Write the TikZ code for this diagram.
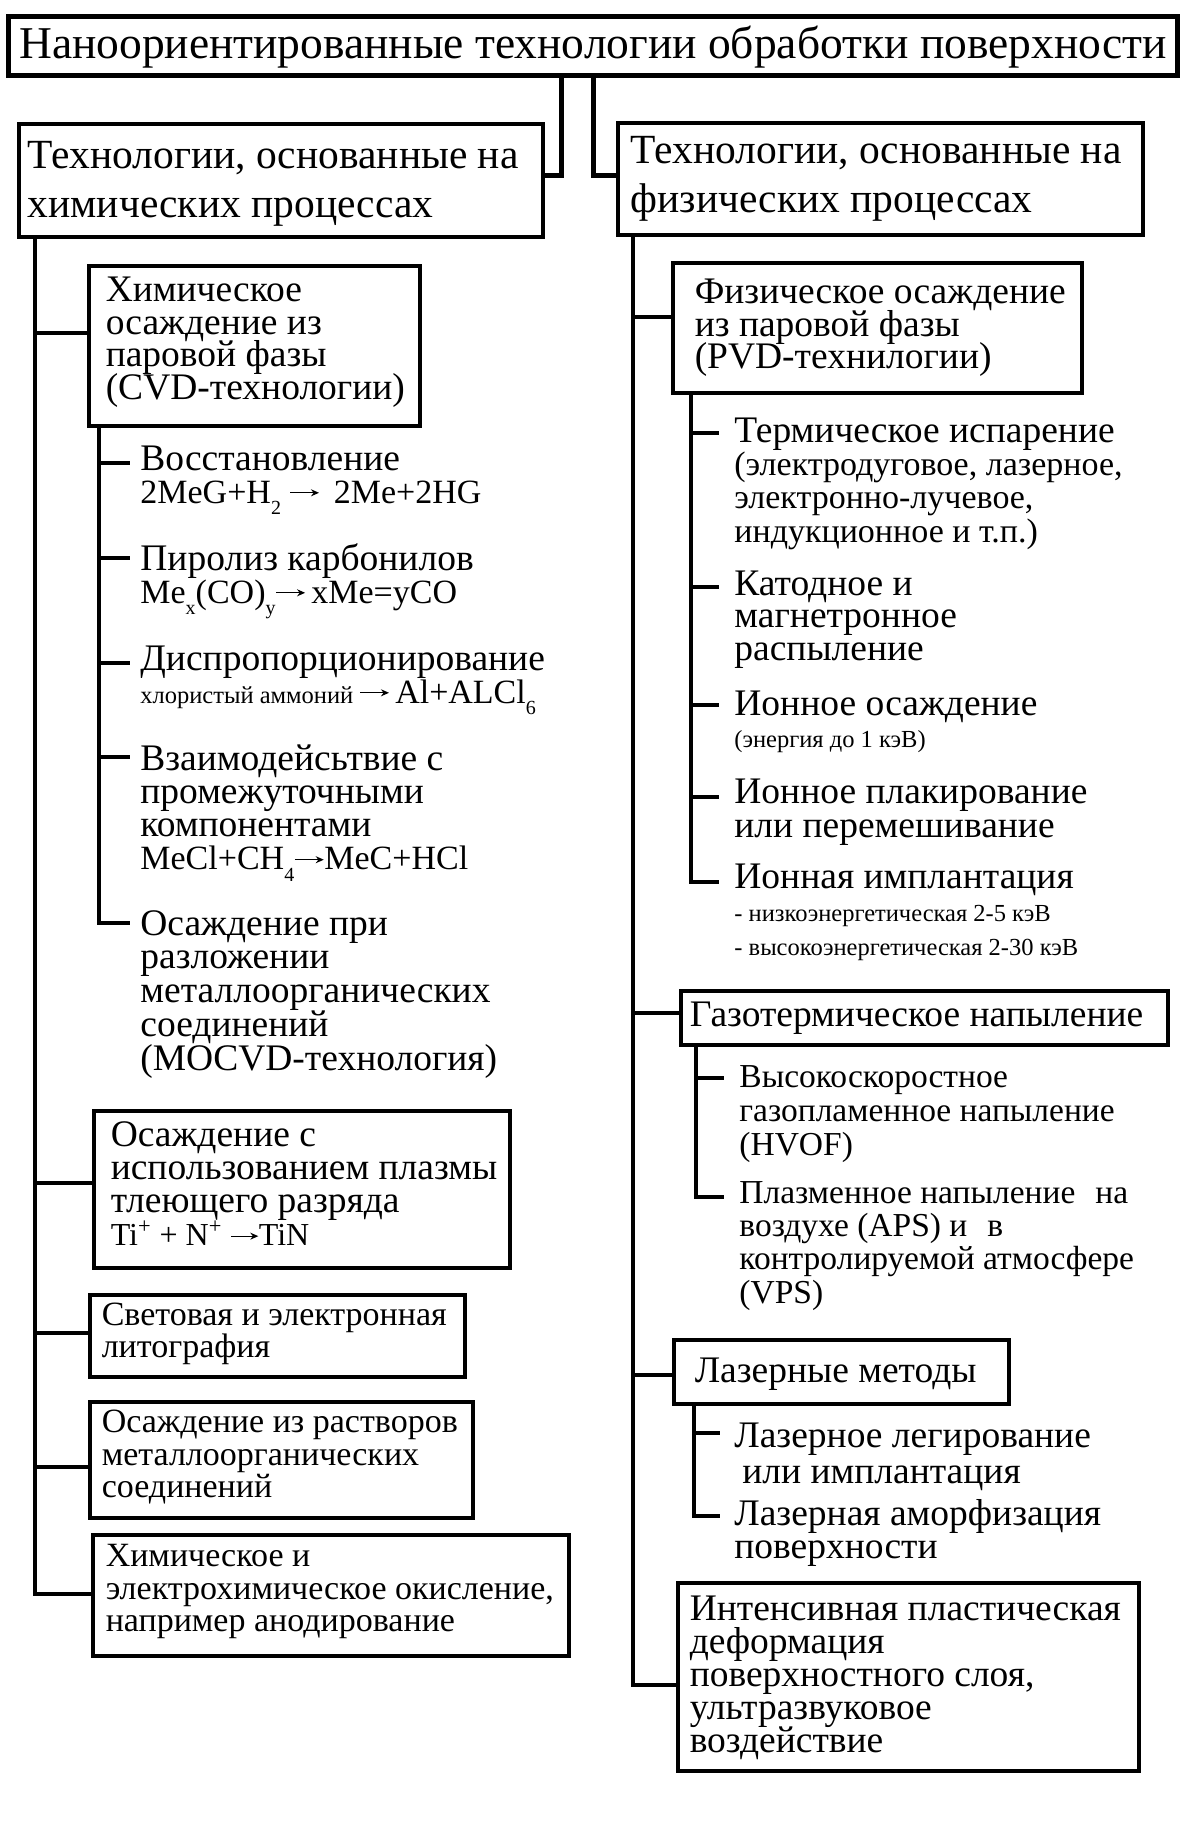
\documentclass[tikz,border=0pt]{standalone}
\usepackage{fontspec}
\setmainfont{Liberation Serif}
\usetikzlibrary{arrows.meta}
\newcommand\fs[2]{\fontsize{#1}{#2}\selectfont}
\newcommand\ML[1]{\vtop{\lineskiplimit=-\maxdimen\lineskip=0pt\halign{##\hfil\cr#1\crcr}}}
\newcommand\smf{\fs{17}{17}}
\newcommand\tnf{\fs{12.25}{14}}
\newcommand\sbs[1]{\raisebox{-0.35em}{\fontsize{10}{10}\selectfont #1}}
\newcommand\arr{\tikz[baseline=-0.3em]\draw[-{Stealth[length=4pt,width=3.5pt]},line width=0.6pt] (0pt,0pt) -- (0.85em,0pt);}
\begin{document}
\begin{tikzpicture}[x=0.5pt,y=-0.5pt,
  ln/.style={line width=1.75pt},
  thk/.style={line width=2.5pt},
  bx/.style={draw, line width=1.75pt, anchor=north west, inner ysep=0pt},
  item/.style={anchor=base west, inner sep=0pt},
  mainf/.style={font=\fs{18.75}{16.25}}]
\useasboundingbox (0,0) rectangle (1181,1831);
\fill[white] (0,0) rectangle (1181,1831);

% ---------- top ----------
\node[bx, thk, inner xsep=4.5pt, text height=21pt, text depth=8.5pt, font=\fs{22.75}{26}] (top) at (6,14)
  {\hbox to 575.5pt{\hss Наноориентированные технологии обработки поверхности\hss}};

\node[bx, inner xsep=4.5pt, text height=22.5pt, text depth=34pt, font=\fs{20.75}{24.5}] (chem) at (17,122)
  {\hbox to 253pt{\ML{Технологии, основанные на\cr химических процессах}\hss}};
\node[bx, inner xsep=6.5pt, text height=20.5pt, text depth=35.5pt, font=\fs{20.75}{24.5}] (phys) at (616,121)
  {\hbox to 249.5pt{\ML{Технологии, основанные на\cr физических процессах}\hss}};

\coordinate (j1) at (561,175);
\coordinate (j2) at (593,175);
\draw[thk] (j1 |- top.south) -- (j1) -- (j1 -| chem.east);
\draw[thk] (j2 |- top.south) -- (j2) -- (j2 -| phys.west);

% ---------- left column ----------
\node[bx, mainf, inner xsep=8.5pt, text height=18pt, text depth=62pt] (cvd) at (87,264)
  {\hbox to 148.5pt{\ML{Химическое\cr осаждение из\cr паровой фазы\cr (CVD-технологии)}\hss}};

\node[item, font=\fs{18.75}{16.5}] (i1) at (140,470)
  {\ML{Восстановление\cr {\smf 2MeG+H\sbs{2} \arr\ \,2Me+2HG}}};
\node[item, font=\fs{18.75}{16.5}] (i2) at (140,570)
  {\ML{Пиролиз карбонилов\cr {\smf Me\sbs{x}(CO)\sbs{y}\arr\,xMe=yCO}}};
\node[item, font=\fs{18.75}{16.5}] (i3) at (140,670)
  {\ML{Диспропорционирование\cr {\tnf хлористый аммоний}\,{\smf\arr\,Al+ALCl\sbs{6}}}};
\node[item, font=\fs{18.75}{16.65}] (i4) at (140,770)
  {\ML{Взаимодейсьтвие с\cr промежуточными\cr компонентами\cr {\smf MeCl+CH\sbs{4}\arr MeC+HCl}}};
\node[item, font=\fs{18.75}{16.9}] (i5) at (140,935)
  {\ML{Осаждение при\cr разложении\cr металлоорганических\cr соединений\cr (MOCVD-технология)}};

\node[bx, inner xsep=8.5pt, text height=18pt, text depth=60.5pt, font=\fs{18.75}{16.5}] (plasma) at (92,1109)
  {\hbox to 191pt{\ML{Осаждение с\cr использованием плазмы\cr тлеющего разряда\cr {\fs{16}{16}Ti\textsuperscript{+} + N\textsuperscript{+} \arr TiN}}\hss}};
\node[bx, inner xsep=6pt, text height=15.5pt, text depth=25.5pt, font=\fs{17}{16}] (litho) at (88,1293)
  {\hbox to 175.5pt{\ML{Световая и электронная\cr литография}\hss}};
\node[bx, inner xsep=6pt, text height=15.5pt, text depth=42.5pt, font=\fs{17}{16.25}] (sol) at (88,1400)
  {\hbox to 179.5pt{\ML{Осаждение из растворов\cr металлоорганических\cr соединений}\hss}};
\node[bx, inner xsep=6.5pt, text height=16pt, text depth=44.5pt, font=\fs{17}{16.25}] (chemox) at (91,1533)
  {\hbox to 225pt{\ML{Химическое и\cr электрохимическое окисление,\cr например анодирование}\hss}};

% left spine
\coordinate (lb1) at (35,333);
\coordinate (lb2) at (35,1183);
\coordinate (lb3) at (35,1333);
\coordinate (lb4) at (35,1467);
\coordinate (lb5) at (35,1594);
\draw[ln] (lb5 |- chem.south) -- (lb5) -- (lb5 -| chemox.west);
\draw[ln] (lb1) -- (lb1 -| cvd.west);
\draw[ln] (lb2) -- (lb2 -| plasma.west);
\draw[ln] (lb3) -- (lb3 -| litho.west);
\draw[ln] (lb4) -- (lb4 -| sol.west);

% CVD sub
\coordinate (c1) at (99,463);
\coordinate (c2) at (99,558);
\coordinate (c3) at (99,663);
\coordinate (c4) at (99,757);
\coordinate (c5) at (99,923);
\draw[ln, shorten >=5pt] (c5 |- cvd.south) -- (c5) -- (c5 -| i5.west);
\draw[ln, shorten >=5pt] (c1) -- (c1 -| i1.west);
\draw[ln, shorten >=5pt] (c2) -- (c2 -| i2.west);
\draw[ln, shorten >=5pt] (c3) -- (c3 -| i3.west);
\draw[ln, shorten >=5pt] (c4) -- (c4 -| i4.west);

% ---------- right column ----------
\node[bx, mainf, inner xsep=11pt, text height=20.5pt, text depth=44.5pt] (pvd) at (671,261)
  {\hbox to 182.5pt{\ML{Физическое осаждение\cr из паровой фазы\cr (PVD-технилогии)}\hss}};

\node[item, font=\fs{18.75}{16.7}] (r1) at (734,442)
  {\ML{Термическое испарение\cr {\smf (электродуговое, лазерное,}\cr {\smf электронно-лучевое,}\cr {\smf индукционное и т.п.)}}};
\node[item, font=\fs{18.75}{16.25}] (r2) at (734,595)
  {\ML{Катодное и\cr магнетронное\cr распыление}};
\node[item, font=\fs{18.75}{16}] (r3) at (734,715)
  {\ML{Ионное осаждение\cr {\tnf (энергия до 1 кэВ)}}};
\node[item, font=\fs{18.75}{17}] (r4) at (734,803)
  {\ML{Ионное плакирование\cr или перемешивание}};
\node[item, font=\fs{18.75}{16.75}] (r5) at (734,888)
  {\ML{Ионная имплантация\cr {\tnf - низкоэнергетическая 2-5 кэВ}\cr {\tnf - высокоэнергетическая 2-30 кэВ}}};

\node[bx, mainf, inner xsep=4.5pt, text height=18pt, text depth=9pt] (gas) at (679,989)
  {\hbox to 234.5pt{\ML{Газотермическое напыление}\hss}};
\node[item, font=\fs{16.75}{17}] (g1) at (739,1087)
  {\ML{Высокоскоростное\cr газопламенное напыление\cr (HVOF)}};
\node[item, font=\fs{16.75}{16.7}] (g2) at (739,1203)
  {\ML{Плазменное напыление\hspace{0.6em}на\cr воздухе (APS) и\hspace{0.6em}в\cr контролируемой атмосфере\cr (VPS)}};

\node[bx, mainf, inner xsep=10.5pt, text height=21.5pt, text depth=10.5pt] (laser) at (672,1338)
  {\hbox to 146.5pt{\ML{Лазерные методы}\hss}};
\node[item, font=\fs{18.75}{18}] (l1) at (734,1447)
  {\ML{Лазерное легирование\cr \hspace{4pt}или имплантация}};
\node[item, font=\fs{18.75}{16.5}] (l2) at (734,1525)
  {\ML{Лазерная аморфизация\cr поверхности}};

\node[bx, inner xsep=6pt, text height=19pt, text depth=75pt, font=\fs{18.75}{16.5}] (spd) at (676,1581)
  {\hbox to 218.5pt{\ML{Интенсивная пластическая\cr деформация\cr поверхностного слоя,\cr ультразвуковое\cr воздействие}\hss}};

% right spine
\coordinate (rb1) at (633,317);
\coordinate (rb2) at (633,1013);
\coordinate (rb3) at (633,1375);
\coordinate (rb4) at (633,1685);
\draw[ln] (rb4 |- phys.south) -- (rb4) -- (rb4 -| spd.west);
\draw[ln] (rb1) -- (rb1 -| pvd.west);
\draw[ln] (rb2) -- (rb2 -| gas.west);
\draw[ln] (rb3) -- (rb3 -| laser.west);

% PVD sub
\coordinate (p1) at (691,433);
\coordinate (p2) at (691,587);
\coordinate (p3) at (691,705);
\coordinate (p4) at (691,797);
\coordinate (p5) at (691,882);
\draw[ln, shorten >=7.5pt] (p5 |- pvd.south) -- (p5) -- (p5 -| r5.west);
\draw[ln, shorten >=7.5pt] (p1) -- (p1 -| r1.west);
\draw[ln, shorten >=7.5pt] (p2) -- (p2 -| r2.west);
\draw[ln, shorten >=7.5pt] (p3) -- (p3 -| r3.west);
\draw[ln, shorten >=7.5pt] (p4) -- (p4 -| r4.west);

% gas sub
\coordinate (q1) at (696,1078);
\coordinate (q2) at (696,1197);
\draw[ln, shorten >=7.5pt] (q2 |- gas.south) -- (q2) -- (q2 -| g2.west);
\draw[ln, shorten >=7.5pt] (q1) -- (q1 -| g1.west);

% laser sub
\coordinate (s1) at (694,1433);
\coordinate (s2) at (694,1516);
\draw[ln, shorten >=7pt] (s2 |- laser.south) -- (s2) -- (s2 -| l2.west);
\draw[ln, shorten >=7pt] (s1) -- (s1 -| l1.west);
\end{tikzpicture}
\end{document}
